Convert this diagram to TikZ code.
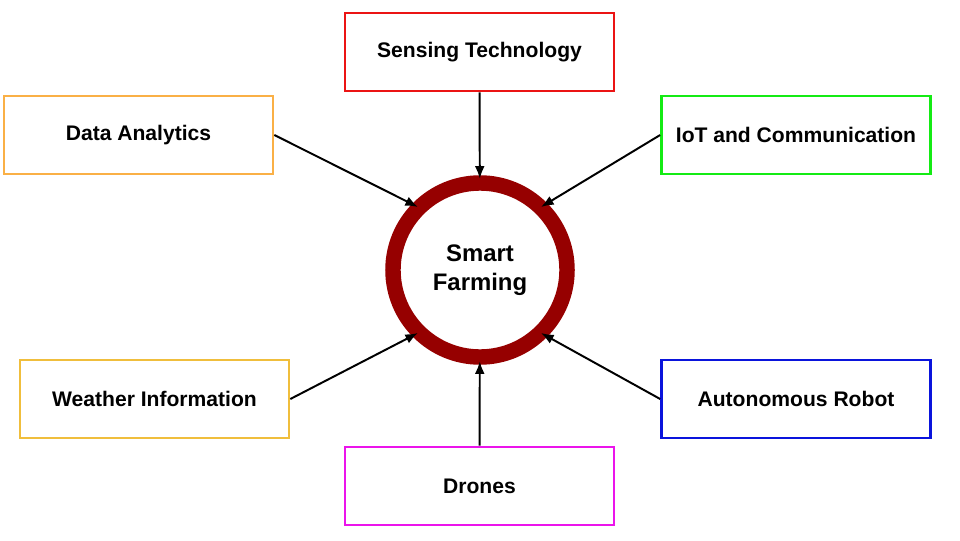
\documentclass[tikz,border=0pt]{standalone}
\usepackage{fontspec}
\setmainfont{Liberation Sans}
\definecolor{ringred}{RGB}{150,0,0}
\definecolor{boxorange}{RGB}{250,176,70}
\definecolor{boxgold}{RGB}{240,190,60}
\definecolor{boxgreen}{RGB}{20,235,20}
\definecolor{boxblue}{RGB}{10,20,220}
\definecolor{boxmagenta}{RGB}{235,20,235}
\definecolor{boxred}{RGB}{235,20,20}
\tikzset{
  topic/.style={draw, rectangle, line width=2pt, minimum width=6.72cm, minimum height=1.95cm, font=\bfseries\fontsize{15}{17}\selectfont},
  feed/.style={-{Latex[length=9pt,width=7pt]}, line width=1.4pt}
}
\usetikzlibrary{arrows.meta}
\begin{document}
\begin{tikzpicture}[x=0.025cm, y=-0.025cm]
\useasboundingbox (0,0) rectangle (960,540);
\node[draw=ringred, circle, line width=11pt, minimum size=4.35cm, outer sep=3pt, align=center, font=\bfseries\fontsize{17}{21}\selectfont] (farm) at (480,270) {Smart\\Farming};

\node[topic, draw=boxred] (sensing) at (479.5,52) {Sensing Technology};
\node[topic, draw=boxorange] (data) at (138.5,135) {Data Analytics};
\node[topic, draw=boxgreen] (iot) at (796,135) {IoT and Communication};
\node[topic, draw=boxgold] (weather) at (154.5,399) {Weather Information};
\node[topic, draw=boxblue] (robot) at (796,399) {Autonomous Robot};
\node[topic, draw=boxmagenta] (drones) at (479.5,486) {Drones};

% arrow ends on the ring
\coordinate (nw) at (418,207);
\coordinate (ne) at (541,207);
\coordinate (sw) at (418,333);
\coordinate (se) at (541,333);

\draw[feed] (sensing) -- (farm);
\draw[feed] (data.east) -- (nw);
\draw[feed] (iot.west) -- (ne);
\draw[feed] (weather.east) -- (sw);
\draw[feed] (robot.west) -- (se);
\draw[feed] (drones) -- (farm);
\end{tikzpicture}
\end{document}
